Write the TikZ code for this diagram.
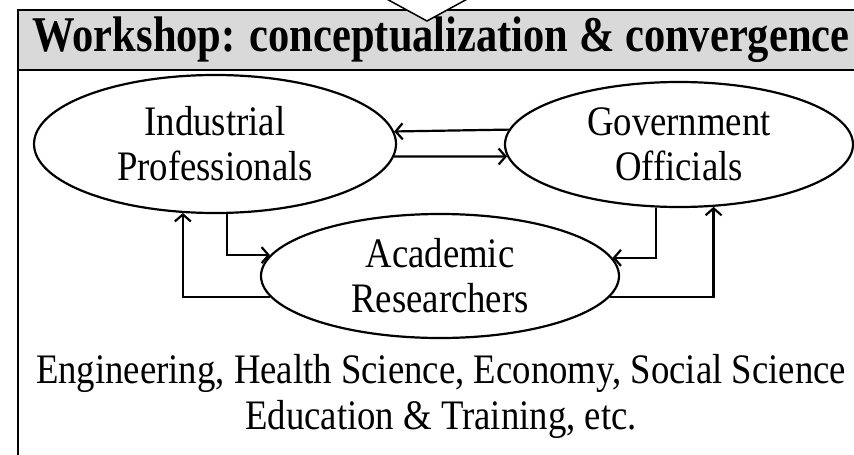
\documentclass[tikz,border=0pt]{standalone}
\usepackage{graphicx}
\usepackage{fontspec}
\setmainfont{Liberation Serif}
\usetikzlibrary{shapes.geometric,arrows.meta}
\definecolor{hdr}{RGB}{217,217,217}
\newcommand{\narrow}[1]{\scalebox{0.875}[1]{#1}}
\begin{document}
\begin{tikzpicture}[x=1pt,y=1pt,
  party/.style={ellipse,draw,line width=2.2pt,inner sep=0pt,align=center,
    font=\fontsize{42}{45}\selectfont},
  link/.style={line width=2.2pt,-{Straight Barb[length=7pt,width=16pt]}},
  frame/.style={line width=2.5pt},
  ]
\useasboundingbox (0,0) rectangle (854,-455);
% header band and frame
\path[fill=hdr] (18,-10) rectangle (870,-70);
\draw[frame] (870,-10) -- (18,-10) -- (18,-470);
\draw[frame] (18,-70) -- (870,-70);
\draw[line width=1.5pt,fill=white] (383,3) -- (427,-21) -- (471,3);
\node (hd) at (441,-40) {\fontsize{50}{52}\selectfont\bfseries\scalebox{0.85}[1]{Workshop: conceptualization \& convergence}};
% parties
\node[party,minimum width=362,minimum height=138] (ind) at (215,-144) {\narrow{Industrial}\\\narrow{Professionals}};
\node[party,minimum width=348,minimum height=125] (gov) at (679,-144.5) {\narrow{Government}\\\narrow{Officials}};
\node[party,minimum width=358,minimum height=124] (acad) at (440,-276) {\narrow{Academic}\\\narrow{Researchers}};
% connectors
\draw[link] (gov.175.46) -- (ind.4.18);
\draw[link] (ind.-4.18) -- (gov.184.19);
\draw[link] (ind.-80.93) |- (acad.173.64);
\draw[link] (acad.187.11) -| (ind.-115.23);
\draw[link] (gov.-110.37) |- (acad.6.0);
\draw[link] (acad.-7.88) -| (gov.-61.0);
% fields
\node[align=center,font=\fontsize{42}{46}\selectfont] (fields) at (441,-396)
  {\narrow{Engineering, Health Science, Economy, Social Science}\\\narrow{Education \& Training, etc.}};
\end{tikzpicture}
\end{document}
